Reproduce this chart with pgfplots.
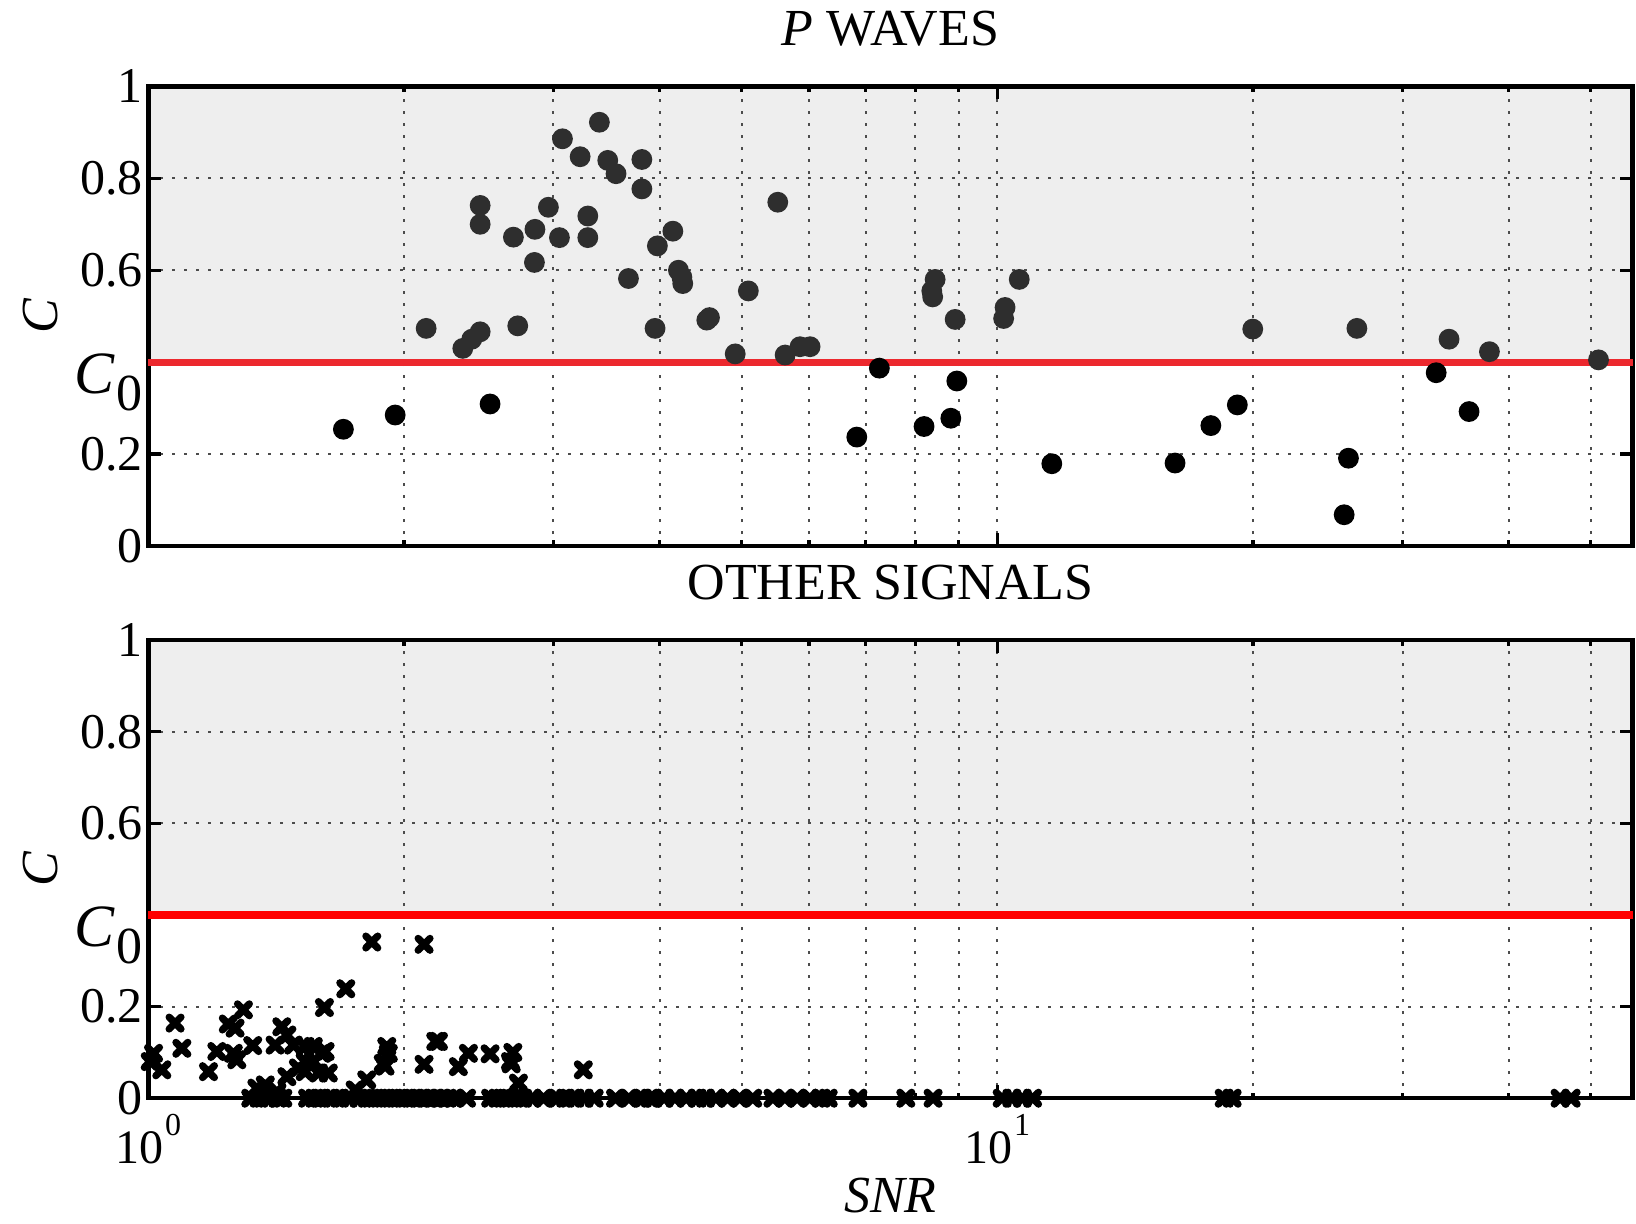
\documentclass[border=0pt]{standalone}
\usepackage{pgfplots}
\pgfplotsset{compat=1.18}
\usepackage{fontspec}
\setmainfont{Liberation Serif}
\definecolor{shade}{RGB}{238,238,238}
\definecolor{dotgrey}{RGB}{46,46,46}
\definecolor{redA}{RGB}{236,40,46}
\definecolor{redB}{RGB}{255,0,0}
\newcommand{\czero}{\raisebox{-7.8pt}[0pt][0pt]{\fontsize{15}{15}\selectfont\itshape C\kern0.6pt\raisebox{-4.2pt}{\fontsize{13}{13}\selectfont\upshape 0}}}
\newcommand{\tenpow}[1]{10\kern0.4pt\raisebox{7.2pt}{\fontsize{8}{8}\selectfont #1}}
\pgfplotsset{
  every axis title shift=0pt,
  every axis/.append style={
    scale only axis,
    width=371.05pt,
    xmin=1, xmax=56, ymin=0, ymax=1,
    xtick={1,10},
    minor xtick={2,3,4,5,6,7,8,9,20,30,40,50},
    ytick={0,0.2,0.4,0.6,0.8,1},
    yticklabels={0,0.2,\czero,0.6,0.8,1},
    xmajorgrids, xminorgrids, ymajorgrids,
    major grid style={black!70, line width=0.5pt, dash pattern=on 0.7pt off 2.3pt},
    minor grid style={black!70, line width=0.5pt, dash pattern=on 0.7pt off 2.3pt},
    axis line style={line width=1.1pt, black},
    tick style={line width=0.8pt, black},
    major tick length=3.2pt,
    minor tick length=1.4pt,
    tick align=inside,
    yticklabel style={font=\fontsize{12.5}{12.5}\selectfont, inner xsep=1.2pt},
    ylabel style={at={(axis description cs:-0.073,0.5)}, anchor=center, font=\fontsize{13}{13}\selectfont},
    title style={at={(0.5,1)}, anchor=base, yshift=10.2pt, font=\fontsize{13}{13}\selectfont},
    clip=false,
  }
}
\begin{document}
\begin{tikzpicture}
% ---------------- top panel ----------------
\begin{semilogxaxis}[
  set layers,
  at={(37.1pt,169.25pt)}, anchor=south west,
  height=114.9pt,
  xticklabels={},
  ylabel={\textit{C}},
  title={\textit{P} WAVES},
]
\addplot[fill=shade, draw=none, on layer=axis background] coordinates {(1,0.4) (56,0.4) (56,1) (1,1)} -- cycle;
\addplot[redA, line width=1.8pt, no marks] coordinates {(1,0.4) (56,0.4)};
\addplot[only marks, mark=*, mark size=2.4pt, color=dotgrey] coordinates {
(2.124,0.4735) (2.346,0.430) (2.404,0.450) (2.459,0.466) (2.459,0.700)
(2.459,0.741) (2.691,0.672) (2.723,0.479) (2.849,0.617) (2.853,0.689)
(2.959,0.737) (3.049,0.671) (3.074,0.886) (3.225,0.847) (3.293,0.718)
(3.293,0.671) (3.398,0.922) (3.476,0.839) (3.555,0.810) (3.677,0.582)
(3.813,0.841) (3.813,0.777) (3.977,0.653) (4.147,0.685) (3.952,0.4735)
(4.210,0.600) (4.250,0.585) (4.26,0.571) (4.547,0.4915) (4.58,0.497)
(5.089,0.555) (5.512,0.748) (4.911,0.418) (5.623,0.4155) (5.855,0.4336)
(6.017,0.4336) (8.446,0.580) (8.37,0.555) (8.39,0.542) (8.917,0.493)
(10.21,0.519) (10.17,0.495) (10.61,0.580) (19.99,0.472) (26.51,0.4735)
(34.04,0.450) (37.98,0.4228) (51.05,0.405)
};
\addplot[only marks, mark=*, mark size=2.4pt, color=black] coordinates {
(1.697,0.254) (1.953,0.285) (2.526,0.309) (7.261,0.387) (6.83,0.237)
(8.958,0.359) (8.813,0.278) (8.196,0.260) (11.59,0.179) (16.19,0.1805)
(17.84,0.262) (19.17,0.307) (25.91,0.191) (25.61,0.068) (32.87,0.377)
(35.94,0.2925)
};
\end{semilogxaxis}
% ---------------- bottom panel ----------------
\begin{semilogxaxis}[
  set layers,
  at={(37.1pt,31.2pt)}, anchor=south west,
  height=114.5pt,
  xticklabels={\tenpow{0},\tenpow{1}},
  xticklabel style={anchor=base, yshift=-16.4pt, font=\fontsize{12}{12}\selectfont},
  ylabel={\textit{C}},
  title={OTHER SIGNALS},
  xlabel={\textit{SNR}},
  xlabel style={at={(axis description cs:0.5,0)}, anchor=base, yshift=-28.5pt, font=\fontsize{13}{13}\selectfont},
]
\addplot[fill=shade, draw=none, on layer=axis background] coordinates {(1,0.4) (56,0.4) (56,1) (1,1)} -- cycle;
\addplot[redB, line width=1.8pt, no marks] coordinates {(1,0.4) (56,0.4)};
\addplot[only marks, mark=x, mark size=2.1pt, mark options={line width=1.8pt, line cap=round}, color=black] coordinates {
(1.833,0.341) (2.112,0.336) (1.708,0.239) (1.612,0.198) (1.294,0.193)
(1.075,0.164) (1.242,0.162) (1.265,0.153) (1.095,0.109) (1.014,0.098)
(1.005,0.080) (1.037,0.062) (1.204,0.102) (1.259,0.098) (1.271,0.084)
(1.177,0.058) (1.327,0.115) (1.436,0.156) (1.41,0.116) (1.456,0.138)
(1.482,0.116) (1.530,0.113) (1.564,0.113) (1.615,0.102) (1.530,0.080)
(1.564,0.080) (1.530,0.058) (1.586,0.055) (1.629,0.055) (1.601,0.098)
(1.456,0.047) (1.502,0.066) (1.342,0.022) (1.373,0.029) (1.417,0.014)
(1.808,0.040) (1.752,0.018) (1.909,0.113) (1.917,0.098) (1.891,0.076)
(1.90,0.07) (2.196,0.124) (2.18,0.124) (2.112,0.074) (2.382,0.098)
(2.318,0.069) (2.526,0.097) (2.687,0.100) (2.67,0.080) (2.675,0.075)
(2.728,0.033) (3.253,0.062)
(1.32,0) (1.35,0) (1.38,0) (1.42,0) (1.44,0)
(1.54,0) (1.57,0) (1.60,0) (1.64,0) (1.68,0)
(1.72,0) (1.77,0)
(1.81,0) (1.85,0) (1.89,0) (1.93,0) (1.97,0) (2.01,0) (2.05,0) (2.09,0) (2.13,0) (2.17,0) (2.21,0) (2.25,0)
(2.29,0) (2.37,0)
(2.53,0) (2.58,0) (2.64,0) (2.70,0) (2.76,0) (2.83,0) (2.92,0)
(3.03,0) (3.10,0) (3.18,0) (3.26,0) (3.35,0)
(3.55,0) (3.68,0) (3.82,0) (3.90,0)
(3.93,0) (4.05,0) (4.17,0) (4.30,0) (4.43,0)
(4.53,0) (4.66,0) (4.81,0) (4.97,0) (5.15,0)
(5.44,0) (5.62,0) (5.81,0) (6.01,0) (6.20,0) (6.32,0)
(6.85,0) (7.8,0) (8.4,0)
(10.13,0) (10.4,0) (10.7,0) (11.0,0)
(18.5,0) (18.9,0)
(46.0,0) (47.4,0)
};
\end{semilogxaxis}
\pgfresetboundingbox
\useasboundingbox (0,0) rectangle (409pt,305.75pt);
\end{tikzpicture}
\end{document}
